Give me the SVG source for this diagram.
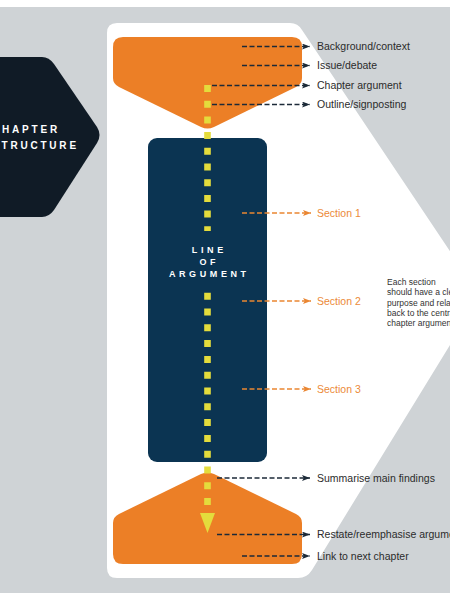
<svg xmlns="http://www.w3.org/2000/svg" width="450" height="600" viewBox="0 0 450 600">
  <style>
    .lbl { font-family: "Liberation Sans", Arial, sans-serif; font-size: 10.5px; fill: #2b2b2b; }
    .sec { font-family: "Liberation Sans", Arial, sans-serif; font-size: 10.5px; fill: #ec8a38; }
    .note { font-family: "Liberation Sans", Arial, sans-serif; font-size: 8.5px; fill: #333333; }
    .title { font-family: "Liberation Sans", Arial, sans-serif; font-weight: bold; fill: #ffffff; }
    .dk { fill: none; stroke: #1c2a38; stroke-width: 1.6; stroke-dasharray: 5 2.5; }
    .or { fill: none; stroke: #ea8632; stroke-width: 1.6; stroke-dasharray: 5 2.5; }
    .orange { fill: #ec7f26; }
    .yel { fill: none; stroke: #e4dc3c; stroke-width: 6.6; }
  </style>
  <defs>
    <marker id="ahd" markerUnits="userSpaceOnUse" markerWidth="9" markerHeight="7" refX="8" refY="3" orient="auto">
      <path d="M0,0 L8,3 L0,6 L1.8,3 Z" fill="#1c2a38"/>
    </marker>
    <marker id="aho" markerUnits="userSpaceOnUse" markerWidth="9" markerHeight="7" refX="8" refY="3" orient="auto">
      <path d="M0,0 L8,3 L0,6 L1.8,3 Z" fill="#ea8632"/>
    </marker>
  </defs>

  <!-- background -->
  <rect x="0" y="0" width="450" height="600" fill="#ffffff"/>
  <rect x="0" y="7" width="450" height="586" fill="#cfd3d6"/>
  <path d="M117,23 H290 Q298,23 302,30 L480,296 L312,570 Q307,578 298,578 H117 Q107,578 107,568 V33 Q107,23 117,23 Z" fill="#ffffff"/>

  <g id="chapter-structure">
    <path d="M-20,57 H42 Q49,57 54,64 L97,127 Q102,135 97,143 L54,210 Q49,217 42,217 H-20 Z" fill="#101b26"/>
    <text class="title" x="-8" y="133" font-size="10" letter-spacing="2.8">CHAPTER</text>
    <text class="title" x="-8" y="149" font-size="10" letter-spacing="2.8">STRUCTURE</text>
  </g>

  <g id="introduction">
    <path class="orange" d="M123,37 H292 Q302,37 302,47 V78 Q302,84 296,87 L214,127 Q207.5,130 201,127 L119,87 Q113,84 113,78 V47 Q113,37 123,37 Z"/>
  </g>

  <g id="body">
    <rect x="148" y="138" width="119" height="324" rx="9" fill="#0b3452"/>
  </g>

  <g id="conclusion">
    <path class="orange" d="M123,564 H292 Q302,564 302,554 V523 Q302,517 296,514 L214,474 Q207.5,471 201,474 L119,514 Q113,517 113,523 V554 Q113,564 123,564 Z"/>
  </g>

  <g id="connectors">
    <path class="yel" d="M207.5,85 V231" stroke-dasharray="7 8.7"/>
    <path class="yel" d="M207.5,292.7 V505.1" stroke-dasharray="7 8.8"/>
    <polygon points="200,513 215,513 207.5,533" fill="#e4dc3c"/>

    <line class="dk" x1="242" y1="46.5" x2="310" y2="46.5" marker-end="url(#ahd)"/>
    <line class="dk" x1="242" y1="65.5" x2="310" y2="65.5" marker-end="url(#ahd)"/>
    <line class="dk" x1="212" y1="85.5" x2="310" y2="85.5" marker-end="url(#ahd)"/>
    <line class="dk" x1="212" y1="104.5" x2="310" y2="104.5" marker-end="url(#ahd)"/>

    <line class="or" x1="242" y1="213" x2="311" y2="213" marker-end="url(#aho)"/>
    <line class="or" x1="242" y1="301" x2="311" y2="301" marker-end="url(#aho)"/>
    <line class="or" x1="242" y1="389" x2="311" y2="389" marker-end="url(#aho)"/>

    <line class="dk" x1="217" y1="478" x2="310" y2="478" marker-end="url(#ahd)"/>
    <line class="dk" x1="217" y1="534.5" x2="310" y2="534.5" marker-end="url(#ahd)"/>
    <line class="dk" x1="242" y1="556" x2="310" y2="556" marker-end="url(#ahd)"/>
  </g>

  <g id="line-of-argument">
    <text class="title" font-size="9" letter-spacing="3.6" text-anchor="middle" x="209.3" y="253">LINE</text>
    <text class="title" font-size="9" letter-spacing="3.6" text-anchor="middle" x="209.3" y="265">OF</text>
    <text class="title" font-size="9" letter-spacing="3.6" text-anchor="middle" x="209.3" y="277">ARGUMENT</text>
  </g>

  <g id="labels">
    <text class="lbl" x="317" y="50.2">Background/context</text>
    <text class="lbl" x="317" y="69.2">Issue/debate</text>
    <text class="lbl" x="317" y="89.2">Chapter argument</text>
    <text class="lbl" x="317" y="108.2">Outline/signposting</text>
    <text class="sec" x="317" y="216.7">Section 1</text>
    <text class="sec" x="317" y="304.7">Section 2</text>
    <text class="sec" x="317" y="392.7">Section 3</text>
    <text class="lbl" x="317" y="481.7">Summarise main findings</text>
    <text class="lbl" x="317" y="538.2">Restate/reemphasise argument</text>
    <text class="lbl" x="317" y="559.7">Link to next chapter</text>
  </g>

  <g id="section-note">
    <text class="note" x="387" y="285">Each section</text>
    <text class="note" x="387" y="295.3">should have a clear</text>
    <text class="note" x="387" y="305.6">purpose and relate</text>
    <text class="note" x="387" y="316">back to the central</text>
    <text class="note" x="387" y="326.3">chapter argument</text>
  </g>
</svg>
